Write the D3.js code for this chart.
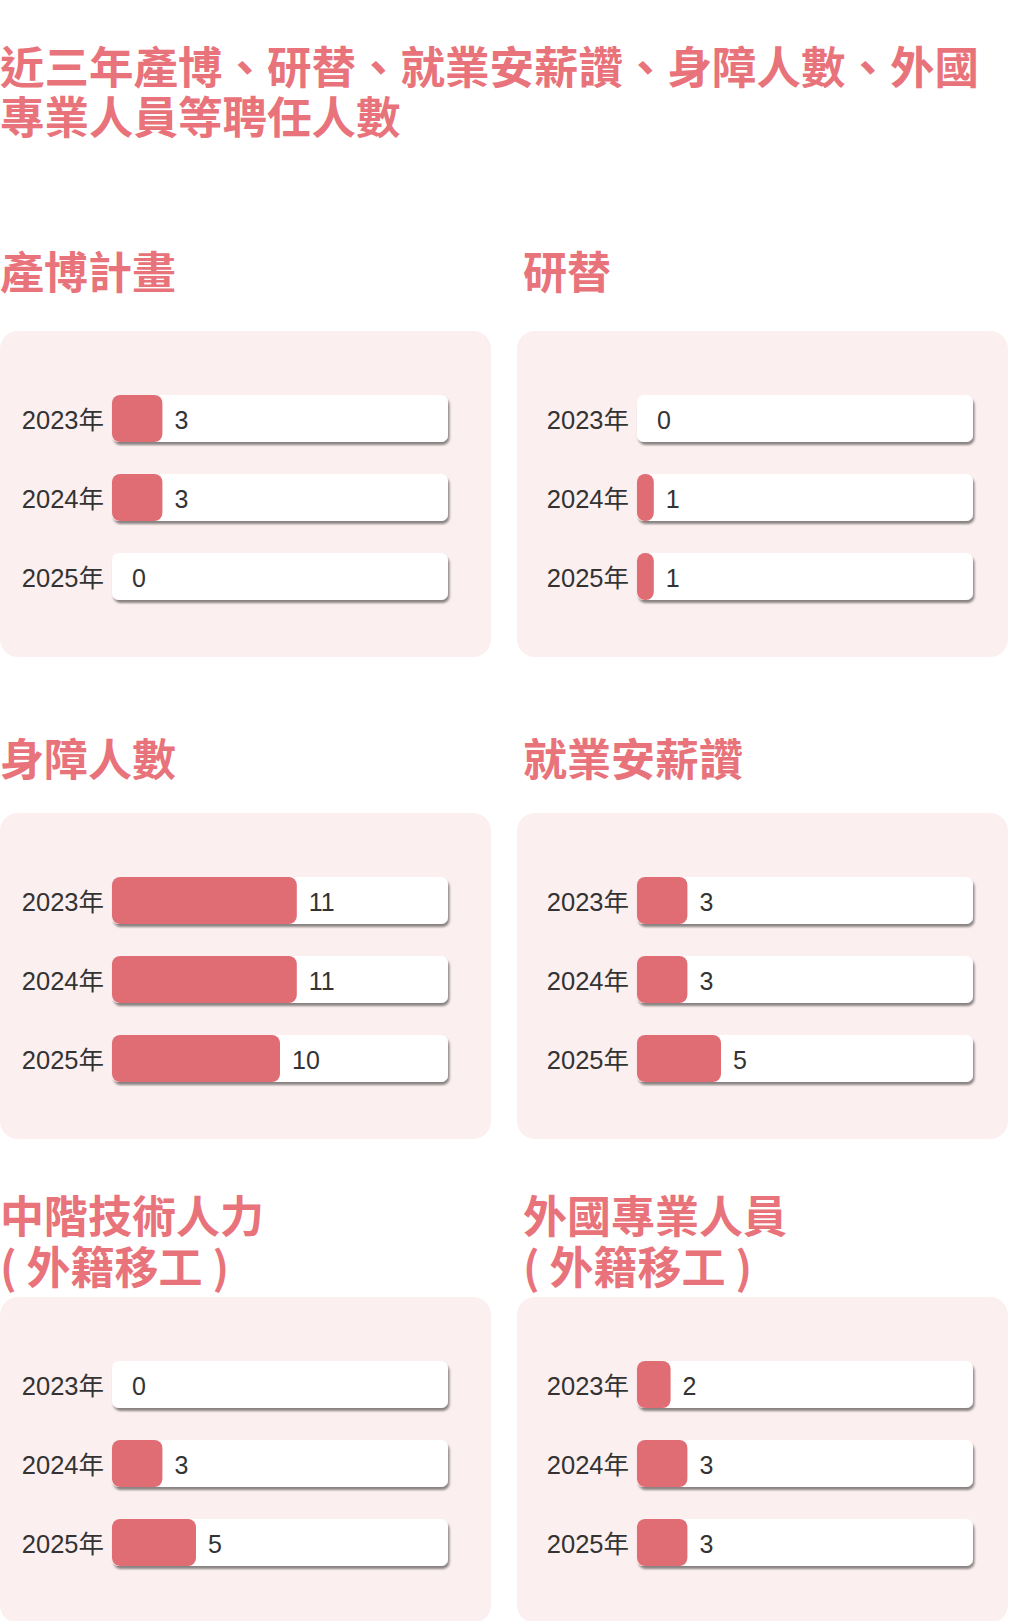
<!DOCTYPE html>
<html>
<head>
<meta charset="utf-8">
<script src="https://cdn.jsdelivr.net/npm/d3@7"></script>
<style>
  html, body { margin: 0; padding: 0; background: #ffffff; }
  svg { display: block; }
</style>
</head>
<body>
<svg id="chart" width="1010" height="1621"></svg>
<script>
// ---- data ----
const mainTitle = ["近三年產博、研替、就業安薪讚、身障人數、外國", "專業人員等聘任人數"];
const years = ["2023年", "2024年", "2025年"];
const panelTitles = [
  ["產博計畫"],
  ["研替"],
  ["身障人數"],
  ["就業安薪讚"],
  ["中階技術人力", "( 外籍移工 )"],
  ["外國專業人員", "( 外籍移工 )"]
];
const industryExpo = [3, 3, 0];
const researchSub = [0, 1, 1];
const disability = [11, 11, 10];
const employment = [3, 3, 5];
const midSkill = [0, 3, 5];
const foreignPro = [2, 3, 3];
const seriesList = [industryExpo, researchSub, disability, employment, midSkill, foreignPro];
const valueMax = 20;

// ---- layout ----
const titleColor = "#e8737b";
const fillColor = "#e06d74";
const panelBg = "#fcefef";
const textColor = "#333333";
const cjk = "'Noto Sans CJK TC', 'Noto Sans CJK SC', sans-serif";
const latin = "'Liberation Sans', Arial, 'Noto Sans CJK TC', sans-serif";

const svg = d3.select("#chart");

const defs = svg.append("defs");
const f = defs.append("filter").attr("id", "shadow")
  .attr("x", "-5%").attr("y", "-20%").attr("width", "115%").attr("height", "160%");
f.append("feDropShadow").attr("dx", 1.5).attr("dy", 3).attr("stdDeviation", 1.2)
  .attr("flood-color", "#000").attr("flood-opacity", 0.45);

// main title
svg.append("g").selectAll("text").data(mainTitle).join("text")
  .attr("x", 0)
  .attr("y", (d, i) => 64 + i * 50)
  .attr("dominant-baseline", "central")
  .attr("font-family", cjk)
  .attr("font-weight", 700)
  .attr("font-size", 44.5)
  .attr("fill", titleColor)
  .text(d => d);

const panelTops = [331, 813, 1297];
const titleCenters = [[270], [757], [1214, 1265]];
const panelX = [0, 517];
const trackX = [112, 637];
const panelW = 491, panelH = 326;
const trackW = 336;

const x = d3.scaleLinear().domain([0, valueMax]).range([0, trackW]);
const y = d3.scaleBand().domain(years).range([64, 269]).paddingInner(32 / 79).paddingOuter(0);

seriesList.forEach((vals, idx) => {
  const row = Math.floor(idx / 2), col = idx % 2;
  const top = panelTops[row];
  const g = svg.append("g");

  // section title
  g.selectAll("text.ptitle").data(panelTitles[idx]).join("text")
    .attr("class", "ptitle")
    .attr("x", col === 0 ? 0 : 523)
    .attr("y", (d, i) => titleCenters[row][i])
    .attr("dominant-baseline", "central")
    .attr("font-family", cjk)
    .attr("font-weight", 700)
    .attr("font-size", 44)
    .attr("fill", titleColor)
    .text(d => d);

  // panel background
  g.append("rect")
    .attr("x", panelX[col]).attr("y", top)
    .attr("width", panelW).attr("height", panelH)
    .attr("rx", 18).attr("ry", 18)
    .attr("fill", panelBg);

  const tx = trackX[col];
  const rows = g.selectAll("g.row").data(years.map((yr, i) => ({ yr, v: vals[i] }))).join("g")
    .attr("class", "row")
    .attr("transform", d => `translate(0,${top + y(d.yr)})`);

  rows.append("text")
    .attr("x", tx - 8)
    .attr("y", y.bandwidth() / 2 + 1)
    .attr("text-anchor", "end")
    .attr("dominant-baseline", "central")
    .attr("font-family", latin)
    .attr("font-size", 25.5)
    .attr("fill", textColor)
    .text(d => d.yr);

  rows.append("rect")
    .attr("x", tx).attr("y", 0)
    .attr("width", trackW).attr("height", y.bandwidth())
    .attr("rx", 7).attr("ry", 7)
    .attr("fill", "#ffffff")
    .attr("filter", "url(#shadow)");

  rows.filter(d => d.v > 0).append("rect")
    .attr("x", tx).attr("y", 0)
    .attr("width", d => x(d.v)).attr("height", y.bandwidth())
    .attr("rx", 8).attr("ry", 8)
    .attr("fill", fillColor);

  rows.append("text")
    .attr("x", d => tx + Math.max(x(d.v), 8) + 12)
    .attr("y", y.bandwidth() / 2 + 1)
    .attr("dominant-baseline", "central")
    .attr("font-family", latin)
    .attr("font-size", 25)
    .attr("fill", textColor)
    .text(d => d.v);
});
</script>
</body>
</html>
